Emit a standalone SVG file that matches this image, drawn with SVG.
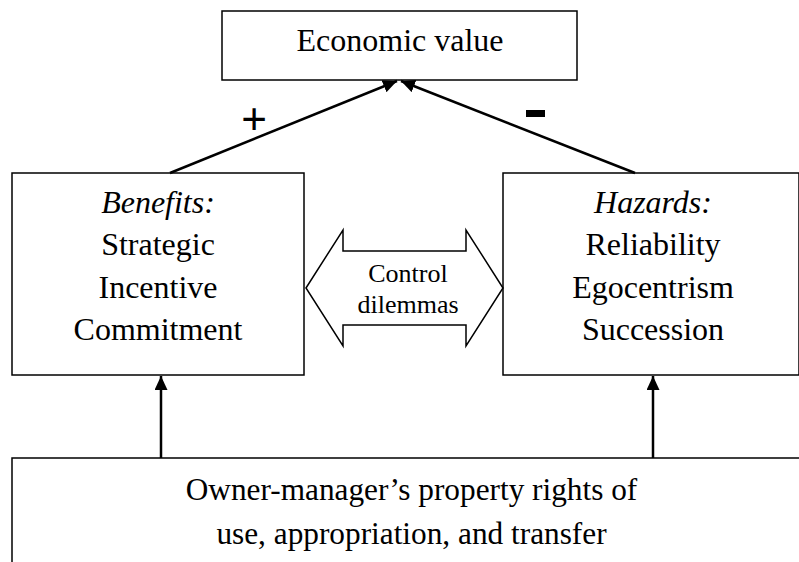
<svg xmlns="http://www.w3.org/2000/svg" width="799" height="562" viewBox="0 0 799 562">
<style>
.box{fill:#fff;stroke:#000;stroke-width:1.5}
.t{font-size:32px;fill:#000;text-anchor:middle}
.it{font-style:italic}
.s{font-size:26px}
.b{font-size:31.3px}
.conn{stroke:#000;stroke-width:2.5;fill:none}
.sign{fill:#000;text-anchor:middle}
</style>
<defs>
<marker id="ah" markerUnits="userSpaceOnUse" markerWidth="16" markerHeight="14" refX="14" refY="6.5" orient="auto">
<path d="M0,0 L14,6.5 L0,13 z" fill="#000"/>
</marker>
</defs>
<rect x="0" y="0" width="799" height="562" fill="#fff"/>
<g font-family="'Liberation Serif', 'Times New Roman', Times, 'DejaVu Serif', serif">
<g id="economic-value">
<rect class="box" x="222" y="11" width="355" height="69"/>
<text class="t" x="400" y="51">Economic value</text>
</g>
<g id="benefits">
<rect class="box" x="12" y="173" width="292" height="202"/>
<text class="t it" x="158" y="213">Benefits:</text>
<text class="t" x="158" y="255">Strategic</text>
<text class="t" x="158" y="298">Incentive</text>
<text class="t" x="158" y="340">Commitment</text>
</g>
<g id="hazards">
<rect class="box" x="503" y="173" width="296" height="202"/>
<text class="t it" x="653" y="213">Hazards:</text>
<text class="t" x="653" y="255">Reliability</text>
<text class="t" x="653" y="298">Egocentrism</text>
<text class="t" x="653" y="340">Succession</text>
</g>
<g id="control-dilemmas">
<polygon class="box" points="306,288 343,230 343,251 466,251 466,230 503,288 466,346 466,325 343,325 343,346"/>
<text class="t s" x="408" y="282">Control</text>
<text class="t s" x="408" y="313">dilemmas</text>
</g>
<g id="property-rights">
<rect class="box" x="12" y="458" width="800" height="200"/>
<text class="t b" x="411.5" y="500">Owner-manager’s property rights of</text>
<text class="t b" x="411.5" y="544">use, appropriation, and transfer</text>
</g>
</g>
<g id="connectors">
<line class="conn" x1="170" y1="173" x2="397" y2="81" marker-end="url(#ah)"/>
<line class="conn" x1="635" y1="173" x2="401" y2="81" marker-end="url(#ah)"/>
<line class="conn" x1="161" y1="458" x2="161" y2="376" marker-end="url(#ah)"/>
<line class="conn" x1="653" y1="458" x2="653" y2="376" marker-end="url(#ah)"/>
<text class="sign" font-family="'Liberation Sans', Arial, sans-serif" x="254" y="134" font-size="44">+</text>
<rect x="526" y="110" width="19" height="7" fill="#000"/>
</g>
</svg>
